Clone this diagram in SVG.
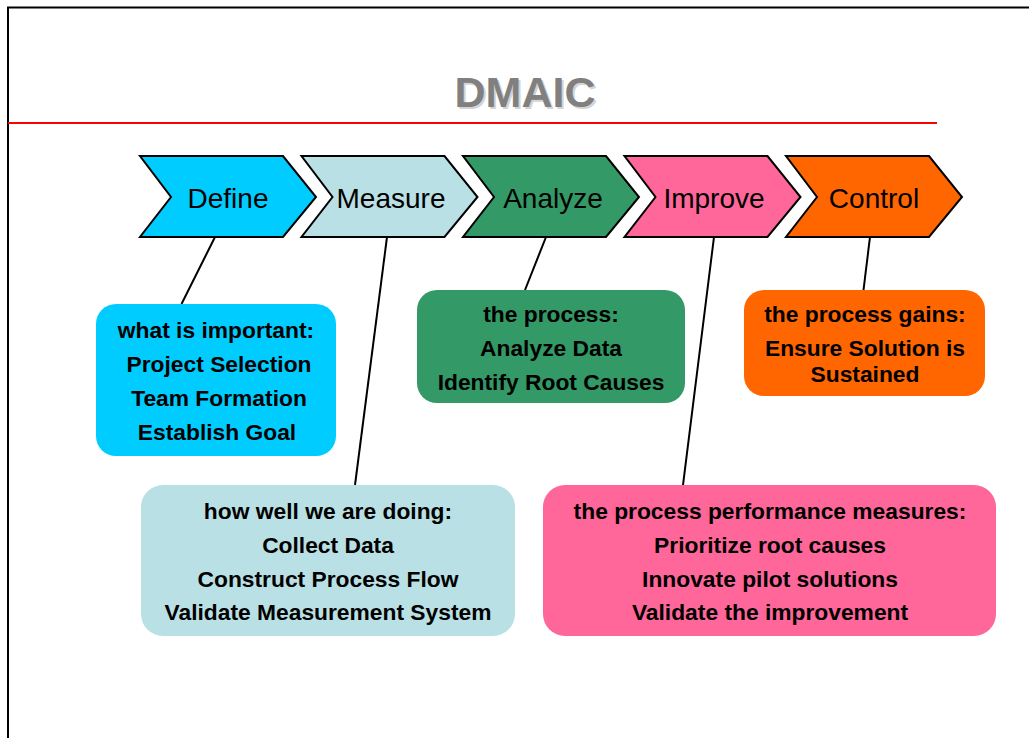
<svg xmlns="http://www.w3.org/2000/svg" width="1029" height="738" viewBox="0 0 1029 738">
<style>
.chev{stroke:#000;stroke-width:2;stroke-linejoin:miter}
.clabel{font-family:"Liberation Sans",Arial,sans-serif;font-size:28px;fill:#000;text-anchor:middle}
.btext{font-family:"Liberation Sans",Arial,sans-serif;font-size:22.8px;font-weight:bold;fill:#000;text-anchor:middle}
.conn{stroke:#000;stroke-width:2;fill:none}
.title{font-family:"Liberation Sans",Arial,sans-serif;font-size:43px;font-weight:bold;text-anchor:middle}
</style>
<rect x="0" y="0" width="1029" height="738" fill="#fff"/>
<path d="M8,738 V7.5 H1029" fill="none" stroke="#000" stroke-width="2"/>
<g id="title">
<text class="title" x="527" y="109" fill="#d4d4d4">DMAIC</text>
<text class="title" x="525" y="107" fill="#808080">DMAIC</text>
</g>
<line x1="8" y1="123" x2="937" y2="123" stroke="#ff0000" stroke-width="2"/>
<g id="connectors">
<line class="conn" x1="215" y1="237" x2="181.5" y2="304"/>
<line class="conn" x1="387" y1="237" x2="355" y2="485"/>
<line class="conn" x1="546" y1="237" x2="525" y2="290"/>
<line class="conn" x1="714" y1="237" x2="683" y2="485"/>
<line class="conn" x1="870" y1="237" x2="863.5" y2="290"/>
</g>
<g id="chev-define">
<polygon class="chev" fill="#00ccff" points="140,156 283,156 316,197 283,237 140,237 171,197"/>
<text class="clabel" x="228" y="208">Define</text>
</g>
<g id="chev-measure">
<polygon class="chev" fill="#b9e0e4" points="301.5,156 444.5,156 477.5,197 444.5,237 301.5,237 332.5,197"/>
<text class="clabel" x="391" y="208">Measure</text>
</g>
<g id="chev-analyze">
<polygon class="chev" fill="#339966" points="463,156 606,156 639,197 606,237 463,237 494,197"/>
<text class="clabel" x="553" y="208">Analyze</text>
</g>
<g id="chev-improve">
<polygon class="chev" fill="#ff6699" points="624.5,156 767.5,156 800.5,197 767.5,237 624.5,237 655.5,197"/>
<text class="clabel" x="714" y="208">Improve</text>
</g>
<g id="chev-control">
<polygon class="chev" fill="#ff6600" points="786,156 929,156 962,197 929,237 786,237 817,197"/>
<text class="clabel" x="874" y="208">Control</text>
</g>
<g id="box-define">
<rect x="96" y="304" width="240" height="152" rx="20" fill="#00ccff"/>
<text class="btext" x="216" y="338">what is important:</text>
<text class="btext" x="219" y="372">Project Selection</text>
<text class="btext" x="219" y="406">Team Formation</text>
<text class="btext" x="217" y="440">Establish Goal</text>
</g>
<g id="box-analyze">
<rect x="417" y="290" width="268" height="113" rx="20" fill="#339966"/>
<text class="btext" x="551" y="322">the process:</text>
<text class="btext" x="551" y="356">Analyze Data</text>
<text class="btext" x="551" y="390">Identify Root Causes</text>
</g>
<g id="box-control">
<rect x="744" y="290" width="241" height="106" rx="20" fill="#ff6600"/>
<text class="btext" x="865" y="322">the process gains:</text>
<text class="btext" x="865" y="356">Ensure Solution is</text>
<text class="btext" x="865" y="382">Sustained</text>
</g>
<g id="box-measure">
<rect x="141" y="485" width="374" height="151" rx="22" fill="#b9e0e4"/>
<text class="btext" x="328" y="519">how well we are doing:</text>
<text class="btext" x="328" y="553">Collect Data</text>
<text class="btext" x="328" y="587">Construct Process Flow</text>
<text class="btext" x="328" y="620">Validate Measurement System</text>
</g>
<g id="box-improve">
<rect x="543" y="485" width="453" height="151" rx="22" fill="#ff6699"/>
<text class="btext" x="770" y="519">the process performance measures:</text>
<text class="btext" x="770" y="553">Prioritize root causes</text>
<text class="btext" x="770" y="587">Innovate pilot solutions</text>
<text class="btext" x="770" y="620">Validate the improvement</text>
</g>
</svg>
